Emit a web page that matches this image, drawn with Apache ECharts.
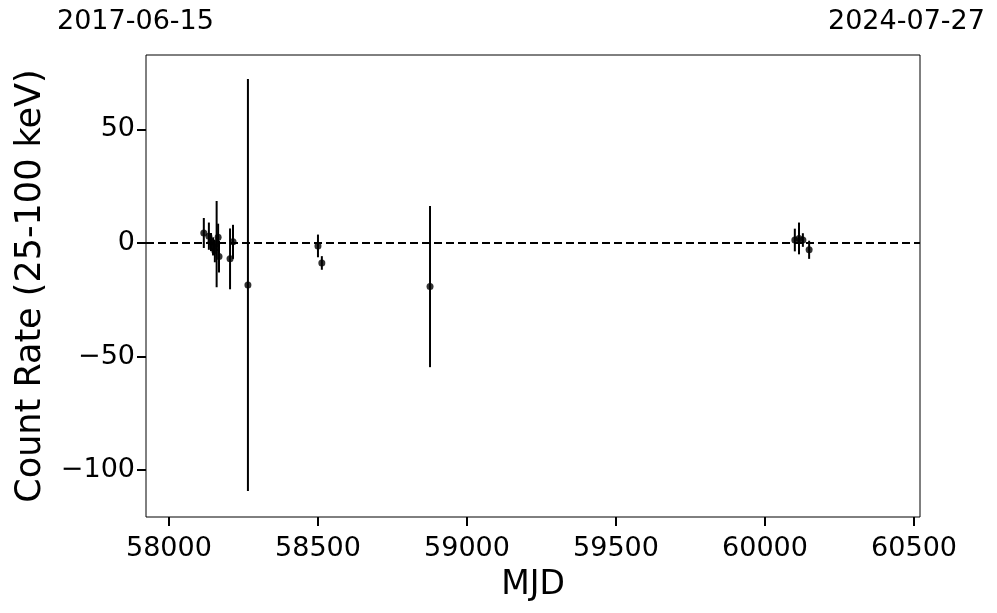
<!DOCTYPE html>
<html><head><meta charset="utf-8">
<script src="https://cdn.jsdelivr.net/npm/echarts@6/dist/echarts.min.js"></script>
<style>html,body{margin:0;padding:0;background:#fff}#c{width:997px;height:613px}</style>
</head><body><div id="c"></div>
<script>
const mjd   = [58117, 58134, 58141, 58148, 58154, 58160, 58165, 58168, 58205, 58215, 58265, 58500, 58513, 58876, 60100, 60114, 60127, 60148];
const rate  = [4.4, 3.0, 0.4, -1.5, -3.5, -0.5, 2.5, -6.0, -7.0, 0.5, -18.5, -1.3, -8.8, -19.2, 1.3, 2.0, 1.3, -3.0];
const err   = [6.6, 6.0, 4.0, 4.0, 5.0, 19.0, 6.0, 7.0, 13.4, 7.5, 90.7, 5.0, 3.0, 35.5, 5.0, 7.0, 3.0, 4.0];
const xTicks = [58000, 58500, 59000, 59500, 60000, 60500];
const yTicks = [-100, -50, 0, 50];
const topLabels = ['2017-06-15', '2024-07-27'];

const pts = mjd.map((x, i) => [x, rate[i]]);
const bars = mjd.map((x, i) => [x, rate[i] - err[i], rate[i] + err[i]]);
const FONT = 'DejaVu Sans';
const fmt = v => String(v).replace('-', '\u2212');

const chart = echarts.init(document.getElementById('c'), null, {renderer: 'canvas'});
chart.setOption({
  animation: false,
  backgroundColor: '#fff',
  grid: {left: 146, right: 77, top: 55, bottom: 96},
  xAxis: {
    type: 'value', min: 57923, max: 60520,
    name: 'MJD', nameLocation: 'middle', nameGap: 52,
    nameTextStyle: {fontFamily: FONT, fontSize: 33, color: '#000', verticalAlign: 'top'},
    axisLine: {show: false, onZero: false},
    splitLine: {show: false},
    axisTick: {show: true, customValues: xTicks, length: 9, inside: false, lineStyle: {color: '#000', width: 2}},
    axisLabel: {customValues: xTicks, fontFamily: FONT, fontSize: 27, color: '#000', margin: 18, formatter: fmt}
  },
  yAxis: {
    type: 'value', min: -120.7, max: 82.8,
    name: 'Count Rate (25-100 keV)', nameLocation: 'middle', nameGap: 98,
    nameTextStyle: {fontFamily: FONT, fontSize: 35, color: '#000', verticalAlign: 'bottom'},
    axisLine: {show: false, onZero: false},
    splitLine: {show: false},
    axisTick: {show: true, customValues: yTicks, length: 9, lineStyle: {color: '#000', width: 2}},
    axisLabel: {customValues: yTicks, fontFamily: FONT, fontSize: 27, color: '#000', margin: 11, formatter: fmt}
  },
  graphic: [
    {type: 'rect', shape: {x: 146, y: 55, width: 774, height: 462}, style: {fill: 'none', stroke: '#000', lineWidth: 1}, z: 100, silent: true},
    {type: 'text', x: 57, y: 8, style: {text: topLabels[0], font: '27px "DejaVu Sans"', fill: '#000'}},
    {type: 'text', x: 828, y: 8, style: {text: topLabels[1], font: '27px "DejaVu Sans"', fill: '#000'}}
  ],
  series: [
    {
      type: 'custom', data: bars, z: 3,
      renderItem: (params, api) => {
        const lo = api.coord([api.value(0), api.value(1)]);
        const hi = api.coord([api.value(0), api.value(2)]);
        return {type: 'line', shape: {x1: lo[0], y1: lo[1], x2: hi[0], y2: hi[1]}, style: {stroke: '#000', lineWidth: 2}};
      },
      encode: {x: 0, y: [1, 2]}
    },
    {
      type: 'scatter', data: pts, symbolSize: 7, z: 4,
      itemStyle: {color: '#000'},
      markLine: {
        silent: true, symbol: 'none', label: {show: false},
        lineStyle: {color: '#000', type: [8, 4], width: 1.8},
        data: [{yAxis: 0}]
      }
    }
  ]
});
</script></body></html>
